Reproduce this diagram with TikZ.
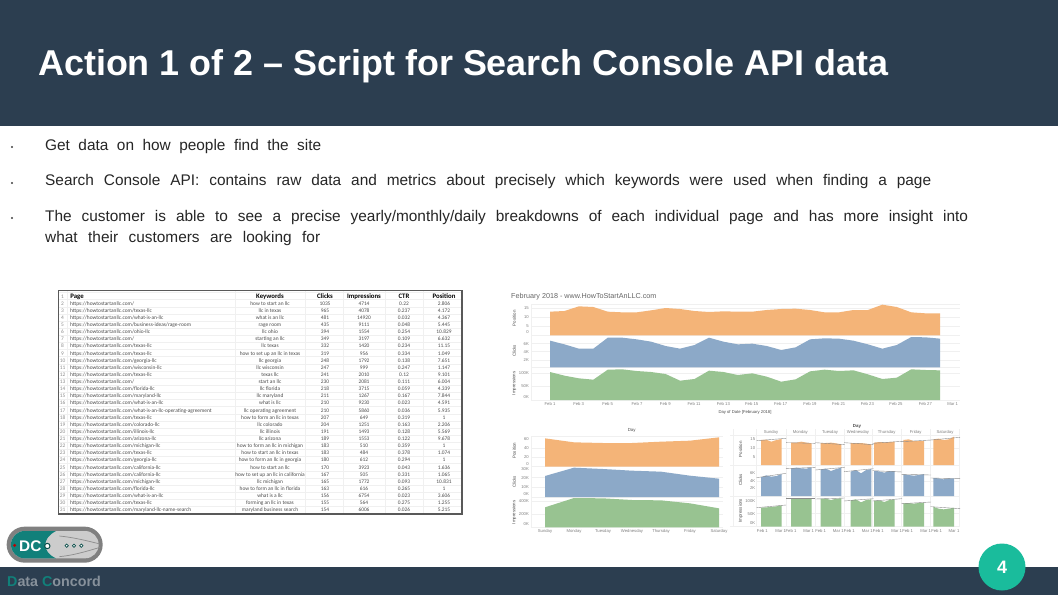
\documentclass[tikz,border=0pt]{standalone}
\usepackage{fontspec}
\setmainfont{Liberation Sans}
\newfontfamily\sheetfont{Carlito}
\usetikzlibrary{positioning}

\definecolor{slate}{HTML}{2C3E50}
\definecolor{teal1}{HTML}{1ABC9C}
\definecolor{tealdark}{HTML}{11807A}
\definecolor{posfill}{HTML}{F4B478}
\definecolor{clkfill}{HTML}{8CA9C8}
\definecolor{impfill}{HTML}{98C391}
\definecolor{brandgrey}{HTML}{87919B}

\newcommand{\fsize}[1]{\fontsize{#1}{#1}\selectfont}
% area chart: colour, first x, step, base y, tops
\newcommand{\areaplot}[5]{\edef\toplist{#5}\fill[#1] (#2,#4) \foreach \z [count=\idx from 0] in \toplist { -- ({#2+\idx*#3},\z) } |- (#2,#4) -- cycle;}

\tikzset{
  bullet/.style={circle,fill=black!75,inner sep=0pt,minimum size=2.2pt},
  bodytext/.style={anchor=base west,inner sep=0pt,text=black!85,font=\fsize{15.4}},
  cell/.style={anchor=base,inner sep=0pt,text=black!70,font=\sheetfont\fsize{5.4}},
  headcell/.style={anchor=base,inner sep=0pt,text=black,font=\sheetfont\bfseries\fsize{6.8}},
  tick/.style={inner sep=0pt,text=black!50,font=\fsize{4.2}},
  axistitle/.style={inner sep=0pt,text=black!70,rotate=90,font=\fsize{4.4}},
  gridline/.style={draw=black!6,line width=0.4pt},
  zoomed/.style={x=0.33333pt,y=-0.33333pt}
}

\begin{document}
\begin{tikzpicture}[x=1pt,y=-1pt]
    \useasboundingbox (0,0) rectangle (1058,595);
    \fill[white] (0,0) rectangle (1058,595);

    % header and footer
    \fill[slate] (0,0) rectangle (1058,126);
    \fill[slate] (0,567) rectangle (1058,595);
    \node[anchor=base west,inner sep=0pt,text=white,font=\bfseries\fsize{35.9}] (title) at (38,75) {Action 1 of 2 -- Script for Search Console API data};

    % bullets
    \node[bullet] (dot1) at (12,147) {};
    \node[bullet] (dot2) at (12,183) {};
    \node[bullet] (dot3) at (12,218) {};
    \node[bodytext] (line1) at (45,150) {\makebox[276pt][s]{Get data on how people find the site}};
    \node[bodytext] (line2) at (45,185.5) {\makebox[886pt][s]{Search Console API: contains raw data and metrics about precisely which keywords were used when finding a page}};
    \node[bodytext] (line3) at (45,221) {\makebox[923pt][s]{The customer is able to see a precise yearly/monthly/daily breakdowns of each individual page and has more insight into}};
    \node[bodytext] (line4) at (45,242.5) {\makebox[275pt][s]{what their customers are looking for}};

    % spreadsheet
    \foreach \i in {1,...,31} \draw[gridline] (59,{292.5+(\i-1)*7.13}) -- (462,{292.5+(\i-1)*7.13});
    \foreach \x in {67,235,305,343,385,423} \draw[gridline] (\x,291) -- (\x,514);
    \node[headcell] (hpage) at (77,298.4) {Page};
    \node[headcell] (hkey) at (270,298.4) {Keywords};
    \node[headcell] (hclk) at (325,298.4) {Clicks};
    \node[headcell] (himp) at (364,298.4) {Impressions};
    \node[headcell] (hctr) at (404,298.4) {CTR};
    \node[headcell] (hpos) at (444,298.4) {Position};
    \node[cell,text=black!45] (n1) at (62.5,298) {1};
    \foreach \i/\pg/\kw/\ck/\im/\ct/\po in {
      2/{}/how to start an llc/1035/4714/0.22/2.806,
      3/texas-llc/llc in texas/965/4078/0.237/4.172,
      4/what-is-an-llc/what is an llc/481/14920/0.032/4.367,
      5/{business-ideas/rage-room}/rage room/435/9111/0.048/5.445,
      6/ohio-llc/llc ohio/394/1554/0.254/10.829,
      7/{}/starting an llc/349/3197/0.109/6.632,
      8/texas-llc/llc texas/332/1420/0.234/11.15,
      9/texas-llc/how to set up an llc in texas/319/956/0.334/1.049,
      10/georgia-llc/llc georgia/248/1792/0.138/7.651,
      11/wisconsin-llc/llc wisconsin/247/999/0.247/1.147,
      12/texas-llc/texas llc/241/2010/0.12/9.101,
      13/{}/start an llc/230/2081/0.111/6.004,
      14/florida-llc/llc florida/218/3715/0.059/4.339,
      15/maryland-llc/llc maryland/211/1267/0.167/7.844,
      16/what-is-an-llc/what is llc/210/9230/0.023/4.591,
      17/what-is-an-llc-operating-agreement/llc operating agreement/210/5860/0.036/5.935,
      18/texas-llc/how to form an llc in texas/207/649/0.319/1,
      19/colorado-llc/llc colorado/204/1251/0.163/2.206,
      20/illinois-llc/llc illinois/191/1493/0.128/5.569,
      21/arizona-llc/llc arizona/189/1553/0.122/9.678,
      22/michigan-llc/how to form an llc in michigan/183/510/0.359/1,
      23/texas-llc/how to start an llc in texas/183/484/0.378/1.074,
      24/georgia-llc/how to form an llc in georgia/180/612/0.294/1,
      25/california-llc/how to start an llc/170/3923/0.043/1.636,
      26/california-llc/how to set up an llc in california/167/505/0.331/1.065,
      27/michigan-llc/llc michigan/165/1772/0.093/10.831,
      28/florida-llc/how to form an llc in florida/163/616/0.265/1,
      29/what-is-an-llc/what is a llc/156/6754/0.023/3.606,
      30/texas-llc/forming an llc in texas/155/564/0.275/1.255,
      31/maryland-llc-name-search/maryland business search/154/6006/0.026/5.215}
    {
      \pgfmathsetmacro{\ry}{298+(\i-1)*7.13}
      \node[cell,text=black!45] (n\i) at (62.5,\ry) {\i};
      \node[cell,anchor=base west] (page\i) at (70,\ry) {https://howtostartanllc.com/\pg};
      \node[cell] (key\i) at (270,\ry) {\kw};
      \node[cell] (clk\i) at (325,\ry) {\ck};
      \node[cell] (imp\i) at (364,\ry) {\im};
      \node[cell] (ctr\i) at (404,\ry) {\ct};
      \node[cell] (pos\i) at (444,\ry) {\po};
    }
    \draw[draw=black!65,line width=1.4pt] (58.5,290.5) rectangle (462,514);

    % monthly chart
    \node[anchor=base west,inner sep=0pt,text=black!60,font=\fsize{7.2}] (charttitle) at (511,298.5) {February 2018 - www.HowToStartAnLLC.com};
    \begin{scope}[shift={(505,285)},zoomed]
      \foreach \y in {57,152,247,345} \draw[gridline] (78,\y) -- (1365,\y);
      \foreach \y in {69,96,123,176,200,225,265,303} \draw[gridline] (78,\y) -- (1365,\y);
      \draw[gridline] (78,57) -- (78,345);
      \areaplot{posfill}{135}{43.35}{151}{80,78,64,66,80,82,82,76,69,72,78,81,79,80,80,75,72,71,75,82,82,75,75,59,66,82,85,85}
      \areaplot{clkfill}{135}{43.35}{247}{167,178,191,191,158,158,163,170,183,191,180,158,170,178,176,183,195,187,163,160,161,167,178,191,180,156,157,161}
      \areaplot{impfill}{135}{43.35}{345}{261,272,280,284,254,253,258,261,267,287,282,257,261,270,265,275,290,283,259,254,258,256,268,282,278,253,255,256}
      \node[axistitle] (tpos) at (28,100) {Position};
      \node[axistitle] (tclk) at (28,197) {Clicks};
      \node[axistitle] (timp) at (28,295) {Impressions};
      \foreach \y/\t in {69/15,96/10,123/5,142/0,176/6K,200/4K,225/2K,265/100K,303/50K,336/0K}
        \node[tick,anchor=east] (ly\y) at (72,\y) {\t};
      \foreach \d/\x in {1/135,3/221,5/308,7/396,9/481,11/567,13/655,15/740,17/827,19/915,21/1001,23/1087,25/1173,27/1261}
        \node[tick] (feb\d) at (\x,358) {Feb \d};
      \node[tick] (mar) at (1343,358) {Mar 1};
      \node[tick,text=black!70] (daydate) at (720,381) {Day of Date [February 2018]};
    \end{scope}

    % weekday chart
    \node[inner sep=0pt,text=black!70,font=\fsize{4.4}] (dayleft) at (631.7,430) {Day};
    \begin{scope}[shift={(505,420)},zoomed]
      \foreach \y in {50,140,233,322} \draw[gridline] (78,\y) -- (655,\y);
      \foreach \y in {85,112,173,202,244,283} \draw[gridline] (78,\y) -- (655,\y);
      \draw[gridline] (78,50) -- (78,322);
      \areaplot{posfill}{120}{87}{140}{55,67,69,69,65,62,52}
      \areaplot{clkfill}{120}{87}{231}{168,143,147,152,155,167,176}
      \areaplot{impfill}{120}{87}{322}{262,234,235,240,241,250,265}
      \node[axistitle] (wpos) at (28,92) {Position};
      \node[axistitle] (wclk) at (28,185) {Clicks};
      \node[axistitle] (wimp) at (28,277) {Impressions};
      \foreach \y/\t in {57/60,85/40,112/20,131/0,148/30K,173/20K,202/10K,222/0K,244/400K,283/200K,313/0K}
        \node[tick,anchor=east] (lw\y) at (72,\y) {\t};
      \foreach \x/\t in {120/Sunday,207/Monday,294/Tuesday,381/Wednesday,468/Thursday,555/Friday,642/Saturday}
        \node[tick] (w\t) at (\x,335) {\t};
    \end{scope}

    % weekday by month chart
    \begin{scope}[shift={(730,420)},zoomed]
      \node[inner sep=0pt,font=\bfseries\fsize{4.4},text=black!70] (dayright) at (381,20) {Day};
      \foreach \y in {45,135,228,320} \draw[gridline] (0,\y) -- (690,\y);
      \foreach \y in {85,183,281} \draw[gridline] (78,\y) -- (690,\y);
      \foreach \x in {10,80,168,256,342,428,515,602,688} \draw[gridline] (\x,28) -- (\x,320);
      \foreach \x/\t in {123/Sunday,211/Monday,300/Tuesday,384/Wednesday,470/Thursday,557/Friday,645/Saturday}
        \node[tick] (m\t) at (\x,36) {\t};
      % panels: area start / tops / trend line
      \foreach \cx/\lx/\tops/\la/\lb in {93/80/{60,59,65,60,57}/62/55,183/168/{68,68,65,68,70}/68/70,272/256/{69,69,68,70,73}/68/74,362/342/{69,69,69,71,73}/68/74,432/428/{68,66,67,66,65}/70/64,520/515/{60,58,63,63,63}/65/60,610/602/{58,56,60,58,50}/60/52}
      { \areaplot{posfill}{\cx}{15.5}{135}{\tops} \draw[black!45,line width=0.4pt] (\lx,\la) -- ({\lx+88},\lb); }
      \foreach \cx/\lx/\tops/\la/\lb in {93/80/{172,166,170,168,162}/173/160,183/168/{145,143,145,146,142}/146/142,272/256/{148,146,153,147,143}/150/142,362/342/{155,150,160,150,147}/155/146,432/428/{153,154,158,153,153}/152/156,520/515/{163,165,167,165,162}/163/165,610/602/{174,175,178,175,175}/174/176}
      { \areaplot{clkfill}{\cx}{15.5}{228}{\tops} \draw[black!45,line width=0.4pt] (\lx,\la) -- ({\lx+88},\lb); }
      \foreach \cx/\lx/\tops/\la/\lb in {93/80/{263,262,261,259,256}/263/255,183/168/{235,234,237,234,234}/235/235,272/256/{236,236,240,236,235}/237/234,362/342/{241,238,247,240,238}/243/236,432/428/{242,241,246,240,238}/243/236,520/515/{250,249,251,249,248}/251/246,610/602/{260,266,268,266,263}/260/266}
      { \areaplot{impfill}{\cx}{15.5}{320}{\tops} \draw[black!45,line width=0.4pt] (\lx,\la) -- ({\lx+88},\lb); }
      \node[axistitle] (mpos) at (32,88) {Position};
      \node[axistitle] (mclk) at (32,180) {Clicks};
      \node[axistitle] (mimp) at (32,272) {Impressions};
      \foreach \y/\t in {58/15,85/10,112/5,160/6K,183/4K,205/2K,243/100K,281/50K,310/0K}
        \node[tick,anchor=east] (lm\y) at (76,\y) {\t};
      \foreach \a/\b in {97/152,183/236,272/325,358/412,445/500,533/587,620/672} {
        \node[tick] (fb\a) at (\a,333) {Feb 1};
        \node[tick] (mr\a) at (\b,333) {Mar 1};
      }
    \end{scope}

    % logo
    \begin{scope}[shift={(0,520)},zoomed]
      \fill[black!50,rounded corners=17.9pt] (20,20) rectangle (308,128);
      \fill[black!20,rounded corners=13.6pt] (33,33) rectangle (296,115);
      \begin{scope}
        \clip[rounded corners=13.6pt] (33,33) rectangle (296,115);
        \fill[tealdark] (33,33) -- (168,33) .. controls (125,55) and (125,95) .. (168,115) -- (33,115) -- cycle;
      \end{scope}
      \draw[black!45,line width=0.7pt] (178,48) .. controls (220,52) and (260,62) .. (300,72);
      \draw[black!45,line width=0.7pt] (178,110) .. controls (220,106) and (260,94) .. (300,82);
      \fill[red!75!black] (44,76) circle[radius=5];
      \node[inner sep=0pt,text=white,font=\bfseries\fsize{15.4}] (dc) at (91,78) {DC};
      \draw[tealdark!60!black,fill=white,line width=1pt] (142,78) circle[radius=8];
      \foreach \x in {200,222,244} \draw[tealdark!60!black,fill=white,line width=0.7pt] (\x,77) circle[radius=5];
    \end{scope}
    \node[anchor=base west,inner sep=0pt,text=brandgrey,font=\bfseries\fsize{14.3}] (brand) at (7,586) {\textcolor{tealdark}{D}ata \textcolor{tealdark}{C}oncord};

    % page number
    \node[circle,fill=teal1,minimum size=47pt,inner sep=0pt,text=white,font=\bfseries\fsize{18}] (pagenum) at (1002,567) {4};
\end{tikzpicture}
\end{document}
